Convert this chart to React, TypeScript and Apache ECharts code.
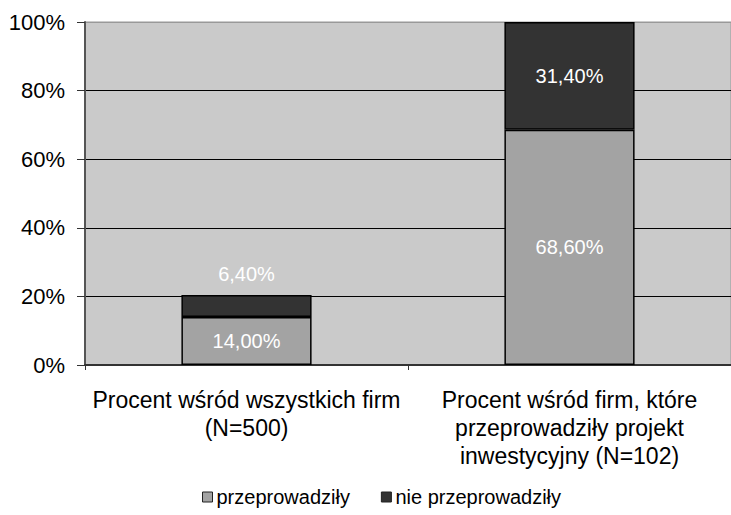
import React, { useEffect, useRef } from "react";
import * as echarts from "echarts";

const categories = [
  "Procent wśród wszystkich firm\n(N=500)",
  "Procent wśród firm, które\nprzeprowadziły projekt\ninwestycyjny (N=102)",
];
const seriesNames = ["przeprowadziły", "nie przeprowadziły"];
const doneValues = [14.0, 68.6];
const notDoneValues = [6.4, 31.4];
const yTicks = [0, 20, 40, 60, 80, 100];

const FONT = "'Liberation Sans', Arial, sans-serif";

const fmt = (v: number) => v.toFixed(2).replace(".", ",") + "%";

export default function App() {
  const ref = useRef<HTMLDivElement>(null);
  useEffect(() => {
    if (!ref.current) return;
    const chart = echarts.init(ref.current, null, { renderer: "svg" });
    chart.setOption({
      animation: false,
      backgroundColor: "#ffffff",
      textStyle: { fontFamily: FONT },
      legend: {
        left: 197,
        top: 482,
        itemWidth: 10,
        itemHeight: 10,
        itemGap: 31,
        icon: "rect",
        itemStyle: { borderColor: "#222", borderWidth: 1 },
        textStyle: { fontFamily: FONT, fontSize: 20, color: "#000", padding: [0, 0, 0, -1] },
        data: seriesNames,
      },
      grid: {
        left: 85,
        top: 22,
        width: 650,
        height: 343,
        show: true,
        backgroundColor: "#CACACA",
        borderColor: "#999999",
        borderWidth: 1,
      },
      xAxis: {
        type: "category",
        data: categories,
        axisLine: { lineStyle: { color: "#333", width: 2 } },
        axisTick: { show: true, length: 5, lineStyle: { color: "#333" } },
        axisLabel: {
          fontFamily: FONT,
          fontSize: 23,
          color: "#000",
          lineHeight: 28,
          margin: 21,
          interval: 0,
        },
      },
      yAxis: {
        type: "value",
        min: 0,
        max: 100,
        interval: 20,
        axisLine: { show: true, lineStyle: { color: "#555", width: 2 } },
        axisTick: { show: true, length: 8, lineStyle: { color: "#333" } },
        axisLabel: {
          fontFamily: FONT,
          fontSize: 22,
          color: "#000",
          margin: 20,
          formatter: (v: number) => (yTicks.includes(v) ? v + "%" : ""),
        },
        splitLine: {
          show: true,
          lineStyle: { color: ["#000", "#000", "#000", "#000", "#000", "#999"], width: 1 },
        },
      },
      series: [
        {
          name: seriesNames[0],
          type: "bar",
          stack: "s",
          barWidth: "40.3%",
          data: doneValues,
          itemStyle: { color: "#A3A3A3", borderColor: "#000", borderWidth: 1.5 },
          label: {
            show: true,
            position: "inside",
            color: "#fff",
            fontFamily: FONT,
            fontSize: 20,
            formatter: (p: any) => fmt(p.value),
          },
        },
        {
          name: seriesNames[1],
          type: "bar",
          stack: "s",
          data: notDoneValues.map((v, i) =>
            i === 0
              ? { value: v, label: { position: "top", distance: 11 } }
              : { value: v }
          ),
          itemStyle: { color: "#333333", borderColor: "#000", borderWidth: 1.5 },
          label: {
            show: true,
            position: "inside",
            color: "#fff",
            fontFamily: FONT,
            fontSize: 20,
            formatter: (p: any) => fmt(p.value),
          },
        },
      ],
    });
    return () => chart.dispose();
  }, []);
  return (
    <div
      ref={ref}
      style={{ position: "fixed", left: 0, top: 0, width: 731, height: 515, overflow: "hidden" }}
    />
  );
}
